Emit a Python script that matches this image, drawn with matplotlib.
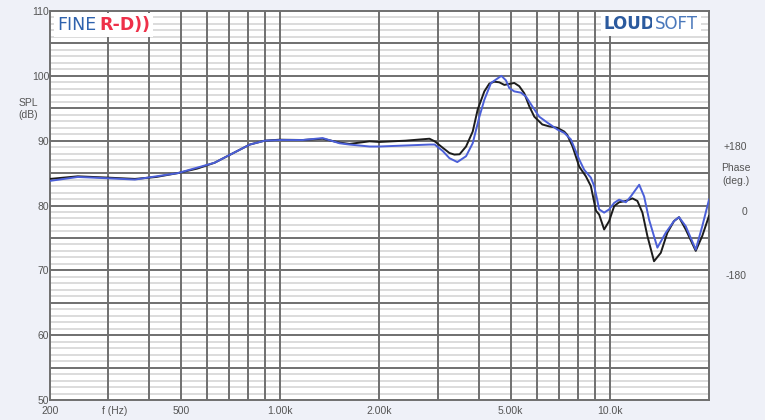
import matplotlib
matplotlib.use('Agg')
import matplotlib.pyplot as plt

# measured response, black curve
freq_black = [200, 243, 300, 362, 420, 489, 560, 632, 702, 808, 897, 996, 1169, 1344, 1513,
              1622, 1866, 2000, 2400, 2835, 2942, 3112, 3260, 3375, 3500, 3662, 3836, 3972,
              4161, 4309, 4463, 4620, 4785, 5130, 5312, 5501, 5696, 5900, 6238, 6548, 6920,
              7273, 7425, 7708, 8074, 8459, 8759, 9077, 9283, 9612, 9953, 10308, 10670, 11186,
              11712, 12126, 12560, 13002, 13620, 14280, 14950, 15660, 16220, 17000, 18230,
              19080, 20000]
spl_black = [84.1, 84.5, 84.3, 84.1, 84.4, 85.0, 85.7, 86.6, 87.8, 89.4, 90.0, 90.15, 90.1, 90.3, 89.7,
             89.5, 89.9, 89.8, 90.0, 90.3, 89.9, 88.9, 88.1, 87.85, 87.9, 89.1, 91.4, 94.8,
             97.6, 98.8, 99.1, 99.0, 98.6, 98.9, 98.4, 97.3, 95.3, 93.7, 92.5, 92.2, 92.0,
             91.4, 90.9, 89.1, 86.0, 84.5, 83.0, 79.2, 78.6, 76.3, 77.6, 79.9, 80.5, 80.7,
             81.1, 80.7, 78.9, 75.3, 71.4, 72.7, 75.8, 77.6, 78.2, 76.3, 73.0,
             75.3, 78.4]

# blue curve
freq_blue = [200, 243, 300, 362, 489, 632, 702, 808, 897, 996, 1169, 1344, 1513, 1622, 1866,
             2000, 2835, 2942, 3112, 3260, 3445, 3662, 3836, 4020, 4161, 4360, 4686, 4840,
             4955, 5130, 5375, 5566, 5817, 6106, 6457, 6941, 7273, 7617, 8074, 8363, 8759,
             8966, 9156, 9283, 9612, 9953, 10308, 10670, 11186, 11580, 12280, 12710, 13160,
             13945, 14785, 15660, 16220, 17000, 18230, 19080, 20000]
spl_blue = [83.8, 84.4, 84.2, 84.0, 85.0, 86.6, 87.8, 89.4, 90.0, 90.1, 90.1, 90.4, 89.6, 89.4, 89.1,
            89.1, 89.4, 89.4, 88.4, 87.3, 86.7, 87.6, 89.6, 93.7, 96.3, 98.9, 100.0, 99.3,
            98.1, 97.6, 97.4, 96.8, 95.3, 93.7, 92.8, 91.7, 91.2, 90.2, 87.1, 85.5, 84.3,
            83.0, 80.9, 79.4, 78.9, 79.4, 80.4, 80.9, 80.5, 81.4, 83.2, 81.4, 77.8,
            73.5, 75.8, 77.6, 78.2, 76.8, 73.2, 76.8, 80.9]

vlines = [300, 400, 500, 600, 700, 800, 900, 1000, 2000, 3000, 4000, 5000,
          6000, 7000, 8000, 9000, 10000]
xtick_vals = [200, 315, 500, 1000, 2000, 5000, 10000]
xtick_labels = ['200', 'f (Hz)', '500', '1.00k', '2.00k', '5.00k', '10.0k']
ytick_vals = [50, 60, 70, 80, 90, 100, 110]

bg = '#eff1f8'
plt.rcParams['font.family'] = ['Liberation Sans', 'DejaVu Sans']

fig = plt.figure(figsize=(7.65, 4.2), dpi=100, facecolor=bg)
ax = fig.add_axes([50/765, 1 - 400/420, 659/765, 389/420])
ax.set_facecolor('white')
ax.set_xscale('log')
ax.set_xlim(200, 20000)
ax.set_ylim(50, 110)

# grid
for y in range(51, 110):
    if y % 5 != 0:
        ax.axhline(y, color='#d9d9d9', lw=1.3, zorder=1)
for y in range(55, 110, 5):
    ax.axhline(y, color='#6f6f6f', lw=1.4, zorder=2)
for f in vlines:
    ax.axvline(f, color='#6f6f6f', lw=1.4, zorder=2)

ax.plot(freq_black, spl_black, color='#1c1c1c', lw=1.4, zorder=4)
ax.plot(freq_blue, spl_blue, color='#4b5fd8', lw=1.4, zorder=5)

for s in ax.spines.values():
    s.set_color('#6f6f6f')
    s.set_linewidth(1.4)

ax.set_xticks(xtick_vals)
ax.set_xticklabels(xtick_labels)
ax.xaxis.set_minor_locator(plt.NullLocator())
ax.set_yticks(ytick_vals)
ax.set_yticklabels([str(v) for v in ytick_vals])
ax.tick_params(axis='both', length=0, labelsize=7.5, colors='#555555')
ax.tick_params(axis='x', pad=4)
ax.tick_params(axis='y', pad=0.5)

# side labels
def px(x, y):
    return x / 765, 1 - y / 420

tc = '#555555'
fig.text(*px(28, 103), 'SPL', ha='center', va='center', fontsize=7.5, color=tc)
fig.text(*px(28, 115), '(dB)', ha='center', va='center', fontsize=7.5, color=tc)
fig.text(*px(747, 147), '+180', ha='right', va='center', fontsize=7.5, color=tc)
fig.text(*px(736, 168), 'Phase', ha='center', va='center', fontsize=7.5, color=tc)
fig.text(*px(736, 181), '(deg.)', ha='center', va='center', fontsize=7.5, color=tc)
fig.text(*px(747, 212), '0', ha='right', va='center', fontsize=7.5, color=tc)
fig.text(*px(747, 276), '-180', ha='right', va='center', fontsize=7.5, color=tc)

# logos, on white patches that hide the grid
box = dict(facecolor='white', edgecolor='none', pad=2)
fig.text(*px(57, 25), 'FINE', ha='left', va='center', fontsize=12.5, color='#2e62ad',
         family='DejaVu Sans', zorder=10, bbox=box)
fig.text(*px(99, 25), 'R-D))', ha='left', va='center', fontsize=12.5, color='#ee3049',
         family='DejaVu Sans', fontweight='bold', zorder=10, bbox=box)
fig.text(*px(655, 24), 'LOUD', ha='right', va='center', fontsize=12, color='#2b5a9e',
         family='DejaVu Sans', fontweight='bold', zorder=10, bbox=box)
fig.text(*px(655, 24), 'SOFT', ha='left', va='center', fontsize=12, color='#4a78bb',
         family='DejaVu Sans', zorder=10, bbox=box)

fig.savefig('out.png', dpi=100, facecolor=bg)
